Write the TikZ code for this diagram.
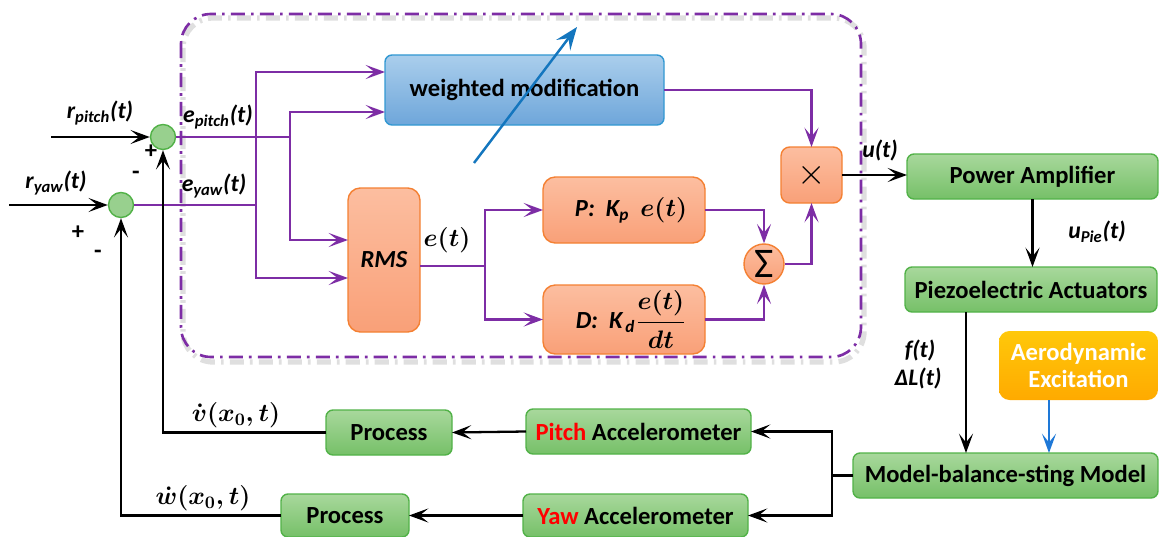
\documentclass[tikz,border=0pt]{standalone}
\usepackage{fontspec}
\setmainfont{Carlito}
\usepackage{amsmath,bm}
\usetikzlibrary{arrows.meta,calc}
\definecolor{pur}{RGB}{125,45,165}
\definecolor{gtop}{RGB}{168,216,156}
\definecolor{gbot}{RGB}{118,192,104}
\definecolor{gbrd}{RGB}{82,178,72}
\definecolor{otop}{RGB}{252,190,160}
\definecolor{obot}{RGB}{249,160,120}
\definecolor{obrd}{RGB}{244,128,50}
\definecolor{btop}{RGB}{170,206,236}
\definecolor{bbot}{RGB}{110,166,218}
\definecolor{bbrd}{RGB}{50,152,210}
\definecolor{ytop}{RGB}{255,200,10}
\definecolor{ybot}{RGB}{255,170,0}
\definecolor{barrow}{RGB}{20,118,190}
\definecolor{aarrow}{RGB}{30,120,215}
\definecolor{redtxt}{RGB}{255,0,0}
\newcommand\bx[7]{\node[#6, minimum width={(#4-#2)*0.02cm}, minimum height={(#5-#3)*0.02cm}] (#1) at ({(#2+#4)/2},{(#3+#5)/2}) {#7};}
\begin{document}
\begin{tikzpicture}[x=0.02cm,y=-0.02cm,
  boxbase/.style={rectangle, rounded corners=4pt, line width=0.8pt, inner sep=0pt, outer sep=0pt, font=\fontsize{14}{16}\selectfont\bfseries, align=center},
  greenbox/.style={boxbase, draw=gbrd, top color=gtop, bottom color=gbot},
  orangebox/.style={boxbase, draw=obrd, top color=otop, bottom color=obot},
  bluebox/.style={boxbase, draw=bbrd, top color=btop, bottom color=bbot},
  yellowbox/.style={boxbase, rounded corners=6pt, draw=none, top color=ytop, bottom color=ybot, text=white},
  sumc/.style={circle, draw=gbrd, line width=0.8pt, fill=gbot!75!white, minimum size={25*0.02cm}, inner sep=0pt},
  tipk/.tip={Stealth[length=11pt,width=8pt,inset=5pt]},
  blk/.style={line width=1.3pt, -tipk},
  blkl/.style={line width=1.3pt},
  pl/.style={pur, line width=1.3pt},
  pa/.style={pl, -tipk},
  lab/.style={font=\fontsize{13.5}{15}\selectfont\bfseries\itshape, inner sep=0pt},
  mlab/.style={font=\fontsize{14}{15}\selectfont\boldmath, inner sep=0pt},
  pm/.style={font=\fontsize{14}{15}\selectfont\bfseries, inner sep=0pt}]
\useasboundingbox (0,0) rectangle (1159,537);
% dash-dot frame with shadow
\draw[gray!25, line width=3pt, rounded corners=0.6cm, dash pattern=on 8pt off 3.5pt on 1.5pt off 3.5pt] (183,18) rectangle (864,362);
\draw[pur, line width=1.5pt, rounded corners=0.6cm, dash pattern=on 8pt off 3.5pt on 1.5pt off 3.5pt] (181,14) rectangle (861,357);
% summing junctions
\node[sumc] (sp) at (163,137) {};
\node[sumc] (sy) at (121,205) {};
% boxes
\bx{wm}{385}{55}{664}{125}{bluebox}{weighted modification}
\bx{rms}{348}{188}{420}{332}{orangebox,rounded corners=7pt}{\itshape RMS}
\bx{pbox}{543}{177}{705}{243}{orangebox,rounded corners=7pt}{\hspace*{8pt}\itshape P:~~K\textsubscript{p}~~{\boldmath$e(t)$}}
\bx{dbox}{543}{285}{705}{354}{orangebox,rounded corners=7pt}{\hspace*{8pt}\itshape D:~~K\textsubscript{\,d}{\boldmath$\dfrac{e(t)}{dt}$}}
\node[circle, draw=obrd, line width=0.8pt, top color=otop, bottom color=obot, minimum size={40*0.02cm}, inner sep=0pt, font=\fontsize{24}{24}\selectfont] (sig) at (764,264) {Σ};
\bx{mul}{781}{147}{842}{203}{orangebox,rounded corners=5pt}{\fontsize{22}{22}\selectfont\mdseries$\times$}
\bx{pamp}{907}{154}{1158}{199}{greenbox}{Power Amplifier}
\bx{pz}{905}{267}{1157}{312}{greenbox}{Piezoelectric Actuators}
\bx{aero}{999}{331}{1158}{400}{yellowbox}{Aerodynamic\\[-1pt]Excitation}
\bx{model}{853}{453}{1158}{498}{greenbox}{Model-balance-sting Model}
\bx{pacc}{526}{409}{751}{454}{greenbox}{\textcolor{redtxt}{Pitch} Accelerometer}
\bx{yacc}{523}{494}{748}{537}{greenbox}{\textcolor{redtxt}{Yaw} Accelerometer}
\bx{procv}{326}{410}{452}{455}{greenbox}{Process}
\bx{procw}{281}{494}{409}{537}{greenbox}{Process}
% coordinates
\coordinate (rp) at (51,137);
\coordinate (ry) at (9,205);
\coordinate (bp) at (290,137);
\coordinate (by) at (256,205);
\coordinate (br) at (485,266);
\coordinate (fcol) at (966,0);
\coordinate (acol) at (1049,0);
\coordinate (bcol) at (832,0);
\coordinate (wtip) at (577,27);
\coordinate (wtail) at (474,163);
% input arrows
\draw[blk] (rp) -- (sp);
\draw[blk] (ry) -- (sy);
% error lines
\draw[pl] (sp.east) -- (bp);
\draw[pl] (sy.east) -- (by);
\draw[pa] (bp) |- ($(wm.west)+(0,22)$);
\draw[pa] (bp) |- ($(rms.west)+(0,-20)$);
\draw[pa] (by) |- ($(wm.west)+(0,-18)$);
\draw[pa] (by) |- ($(rms.west)+(0,18)$);
% RMS to P/D
\draw[pl] (rms.east |- br) -- (br);
\draw[pa] (br) |- (pbox.west);
\draw[pa] (br) |- (dbox.west);
\draw[pa] (pbox.east) -| (sig.north);
\draw[pa] (dbox.east) -| (sig.south);
\draw[pa] (sig.east) -| (mul.south);
\draw[pa] (wm.east) -| (mul.north);
% blue adjust arrow
\draw[barrow, line width=1.4pt, -{Stealth[length=13pt,width=10pt,inset=5pt]}] (wtail) -- (wtip);
% plant chain
\draw[blk] (mul.east) -- (mul.east -| pamp.west);
\draw[blk] (pamp.south) -- (pamp.south |- pz.north);
\draw[blk] (pz.south -| fcol) -- (model.north -| fcol);
\draw[aarrow, line width=0.9pt, -{Stealth[length=11pt,width=8pt,inset=5pt]}] (aero.south -| acol) -- (model.north -| acol);
% sensors
\draw[blkl] (model.west) -- (model.west -| bcol);
\draw[blk] (model.west -| bcol) |- (pacc.east);
\draw[blk] (model.west -| bcol) |- (yacc.east);
\draw[blk] (pacc.west) -- (procv.east);
\draw[blk] (yacc.west) -- (procw.east);
% feedback
\draw[blk] (procv.west) -| (sp.south);
\draw[blk] (procw.west) -| (sy.south);
% labels
\node[lab] (lrp) at (100,113) {r\textsubscript{pitch}(t)};
\node[lab] (lry) at (56,183) {r\textsubscript{yaw}(t)};
\node[lab] (lep) at (218,117) {e\textsubscript{pitch}(t)};
\node[lab] (ley) at (214,186) {e\textsubscript{yaw}(t)};
\node[pm] (p1) at (151,152) {+};
\node[pm] (m1) at (136,175) {-};
\node[pm] (p2) at (78,233) {+};
\node[pm] (m2) at (98,254) {-};
\node[mlab] (let) at (447,240) {$e(t)$};
\node[lab] (lu) at (880,150) {u(t)};
\node[lab] (lupie) at (1097,232) {u\textsubscript{Pie}(t)};
\node[lab] (lf) at (920,350) {f(t)};
\node[lab] (ldl) at (918,378) {ΔL(t)};
\node[mlab] (lv) at (236,415) {$\dot{v}(x_0,t)$};
\node[mlab] (lw) at (203,498) {$\dot{w}(x_0,t)$};
\end{tikzpicture}
\end{document}
